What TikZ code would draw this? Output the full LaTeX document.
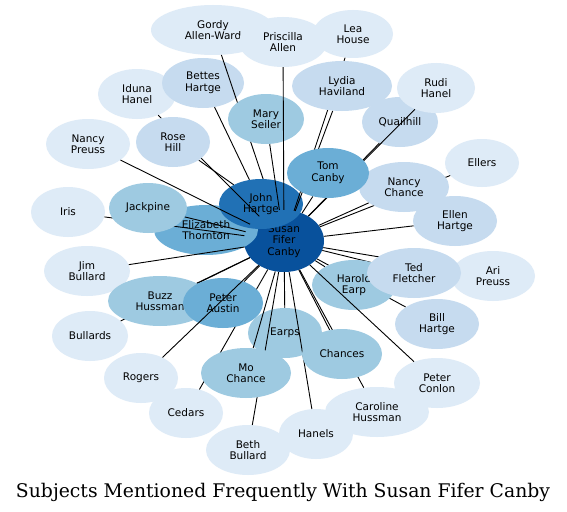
\documentclass[tikz,border=0pt]{standalone}
\usepackage{fontspec}
\usetikzlibrary{shapes.geometric}
\newfontfamily\nodefont{DejaVu Sans}
\newfontfamily\titlefont{DejaVu Serif}
\definecolor{bA}{HTML}{DEEBF7}
\definecolor{bB}{HTML}{C6DBEF}
\definecolor{bC}{HTML}{9ECAE1}
\definecolor{bD}{HTML}{6BAED6}
\definecolor{bE}{HTML}{2171B5}
\definecolor{bF}{HTML}{08519C}
\pgfdeclarelayer{lbg}
\pgfdeclarelayer{lzero}
\pgfdeclarelayer{lone}
\pgfdeclarelayer{ltwo}
\pgfdeclarelayer{lthree}
\pgfdeclarelayer{lfour}
\pgfsetlayers{lbg,lzero,lone,ltwo,lthree,lfour,main}
\tikzset{
  gnode/.style={ellipse, draw=none, inner sep=0pt, align=center, text=black,
    font=\nodefont\fontsize{10.5}{11.5}\selectfont},
  sz/.style 2 args={minimum width=#1pt, minimum height=#2pt},
  edge/.style={draw=black, line width=0.9pt},
  titletext/.style={font=\titlefont\fontsize{18.8}{22}\selectfont, anchor=base, inner sep=0pt}
}
\begin{document}
\begin{tikzpicture}[x=1pt,y=-1pt]
\useasboundingbox (0,0) rectangle (567,511);
\begin{pgfonlayer}{lbg}
\fill[white] (0,0) rectangle (567,511);
\end{pgfonlayer}
% ---------- low nodes
\begin{pgfonlayer}{lzero}
\node[gnode, sz={78}{50}, fill=bA] (iduna) at (137,94) {Iduna\\Hanel};
\node[gnode, sz={82}{50}, fill=bB] (bettes) at (203,83) {Bettes\\Hartge};
\node[gnode, sz={80}{62}, fill=bF] (susan) at (284,241) {Susan\\Fifer\\Canby};
\node[gnode, sz={104}{50}, fill=bD] (eliz) at (206,230) {Elizabeth\\Thornton};
\node[gnode, sz={76}{50}, fill=bB] (quail) at (400,122) {Quailhill};
\node[gnode, sz={74}{50}, fill=bC] (earps) at (285,333) {Earps};
\node[gnode, sz={124}{50}, fill=bA] (gordy) at (213,30) {Gordy\\Allen-Ward};
\node[gnode, sz={88}{50}, fill=bA] (priscilla) at (283,42) {Priscilla\\Allen};
\node[gnode, sz={80}{48}, fill=bA] (lea) at (353,34) {Lea\\House};
\node[gnode, sz={78}{50}, fill=bA] (rudi) at (436,88) {Rudi\\Hanel};
\node[gnode, sz={74}{48}, fill=bA] (ellers) at (482,163) {Ellers};
\node[gnode, sz={84}{50}, fill=bA] (npreuss) at (88,144) {Nancy\\Preuss};
\node[gnode, sz={74}{50}, fill=bA] (iris) at (68,212) {Iris};
\node[gnode, sz={86}{50}, fill=bA] (jim) at (87,271) {Jim\\Bullard};
\node[gnode, sz={76}{50}, fill=bA] (bullards) at (90,336) {Bullards};
\node[gnode, sz={74}{50}, fill=bA] (rogers) at (141,378) {Rogers};
\node[gnode, sz={74}{50}, fill=bA] (cedars) at (186,413) {Cedars};
\node[gnode, sz={84}{50}, fill=bA] (beth) at (248,450) {Beth\\Bullard};
\node[gnode, sz={74}{50}, fill=bA] (hanels) at (316,434) {Hanels};
\node[gnode, sz={104}{50}, fill=bA] (caroline) at (377,412) {Caroline\\Hussman};
\node[gnode, sz={86}{50}, fill=bA] (pconlon) at (437,383) {Peter\\Conlon};
\node[gnode, sz={84}{50}, fill=bA] (ari) at (493,276) {Ari\\Preuss};
\end{pgfonlayer}
% ---------- middle nodes
\begin{pgfonlayer}{ltwo}
\node[gnode, sz={84}{50}, fill=bE] (john) at (261,204) {John\\Hartge};
\node[gnode, sz={76}{50}, fill=bC] (mary) at (266,119) {Mary\\Seiler};
\node[gnode, sz={90}{50}, fill=bB] (nchance) at (404,187) {Nancy\\Chance};
\node[gnode, sz={84}{50}, fill=bB] (ellen) at (455,221) {Ellen\\Hartge};
\node[gnode, sz={84}{50}, fill=bC] (harold) at (354,285) {Harold\\Earp};
\node[gnode, sz={94}{50}, fill=bB] (ted) at (414,273) {Ted\\Fletcher};
\node[gnode, sz={84}{50}, fill=bB] (bill) at (437,324) {Bill\\Hartge};
\node[gnode, sz={80}{50}, fill=bC] (chances) at (342,354) {Chances};
\node[gnode, sz={90}{50}, fill=bC] (mo) at (246,373) {Mo\\Chance};
\node[gnode, sz={104}{50}, fill=bC] (buzz) at (160,301) {Buzz\\Hussman};
\node[gnode, sz={80}{50}, fill=bD] (paustin) at (223,303) {Peter\\Austin};
\node[gnode, sz={78}{50}, fill=bC] (jackpine) at (148,208) {Jackpine};
\end{pgfonlayer}
% ---------- top nodes
\begin{pgfonlayer}{lfour}
\node[gnode, sz={74}{50}, fill=bB] (rose) at (173,142) {Rose\\Hill};
\node[gnode, sz={100}{50}, fill=bB] (lydia) at (342,86) {Lydia\\Haviland};
\node[gnode, sz={82}{50}, fill=bD] (tom) at (328,173) {Tom\\Canby};
\end{pgfonlayer}
% ---------- lower edges
\begin{pgfonlayer}{lone}
\foreach \n in {gordy,rudi,iris,jackpine,jim,mo,hanels,earps,beth,cedars,bullards,buzz,paustin,caroline,chances,bill,harold,ari,ted,ellen,ellers,nchance,tom,quail}
  \draw[edge] (\n) -- (susan);
\end{pgfonlayer}
% ---------- upper edges
\begin{pgfonlayer}{lthree}
\foreach \n in {priscilla,mary,iduna,npreuss,lydia,lea,rogers,pconlon}
  \draw[edge] (\n) -- (susan);
\draw[edge] (rose) -- (john);
\draw[edge] (bettes) -- (john);
\end{pgfonlayer}
% ---------- title
\node[titletext] (title) at (283,497) {Subjects Mentioned Frequently With Susan Fifer Canby};
\end{tikzpicture}
\end{document}
